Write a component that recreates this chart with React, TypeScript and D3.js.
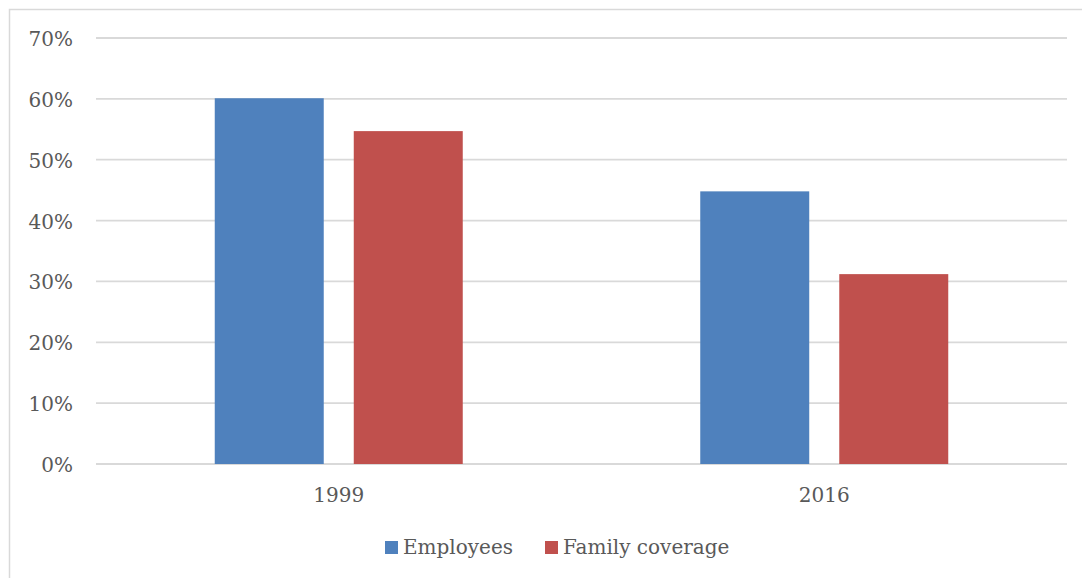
import React from "react";
import * as d3 from "d3";

const categories = ["1999", "2016"];
const seriesNames = ["Employees", "Family coverage"];
const employees = [0.601, 0.448];
const familyCoverage = [0.547, 0.312];
const seriesColors = ["#4f81bd", "#c0504d"];
const yTicks = [0, 0.1, 0.2, 0.3, 0.4, 0.5, 0.6, 0.7];

const W = 1082;
const H = 578;
const FONT = "'DejaVu Serif', 'Liberation Serif', serif";
const TEXT = "#595959";
const GRID = "#d9d9d9";

export default function App() {
  const y = d3.scaleLinear().domain([0, 0.7]).range([464, 38]);
  const x0 = d3.scaleBand<string>().domain(categories).range([96, 1067]).padding(0);
  const x1 = d3.scaleBand<string>().domain(seriesNames).range([-124, 124]).paddingInner(0.216).paddingOuter(0);
  const values = [employees, familyCoverage];
  const fmt = d3.format(".0%");

  return (
    <svg width={W} height={H} style={{ position: "absolute", left: 0, top: 0, background: "#fff" }}>
      <rect x={9.5} y={9.5} width={1085} height={585} fill="#fff" stroke={GRID} strokeWidth={1.5} />
      {yTicks.map((t) => (
        <g key={t}>
          <line x1={96} x2={1067} y1={y(t)} y2={y(t)} stroke={GRID} strokeWidth={1.8} />
          <text x={73} y={y(t) + 8} textAnchor="end" fontFamily={FONT} fontSize={20} fill={TEXT}>
            {fmt(t)}
          </text>
        </g>
      ))}
      {categories.map((c, ci) => {
        const cx = (x0(c) as number) + x0.bandwidth() / 2;
        return (
          <g key={c}>
            {seriesNames.map((s, si) => {
              const v = values[si][ci];
              return (
                <rect
                  key={s}
                  x={cx + (x1(s) as number)}
                  y={y(v)}
                  width={x1.bandwidth()}
                  height={y(0) - y(v)}
                  fill={seriesColors[si]}
                />
              );
            })}
            <text x={cx} y={502} textAnchor="middle" fontFamily={FONT} fontSize={20} fill={TEXT}>
              {c}
            </text>
          </g>
        );
      })}
      <g>
        {seriesNames.map((s, si) => {
          const lx = si === 0 ? 385 : 545;
          return (
            <g key={s}>
              <rect x={lx} y={541} width={13} height={13} fill={seriesColors[si]} />
              <text x={lx + 18} y={554} fontFamily={FONT} fontSize={20} fill={TEXT}>
                {s}
              </text>
            </g>
          );
        })}
      </g>
    </svg>
  );
}
